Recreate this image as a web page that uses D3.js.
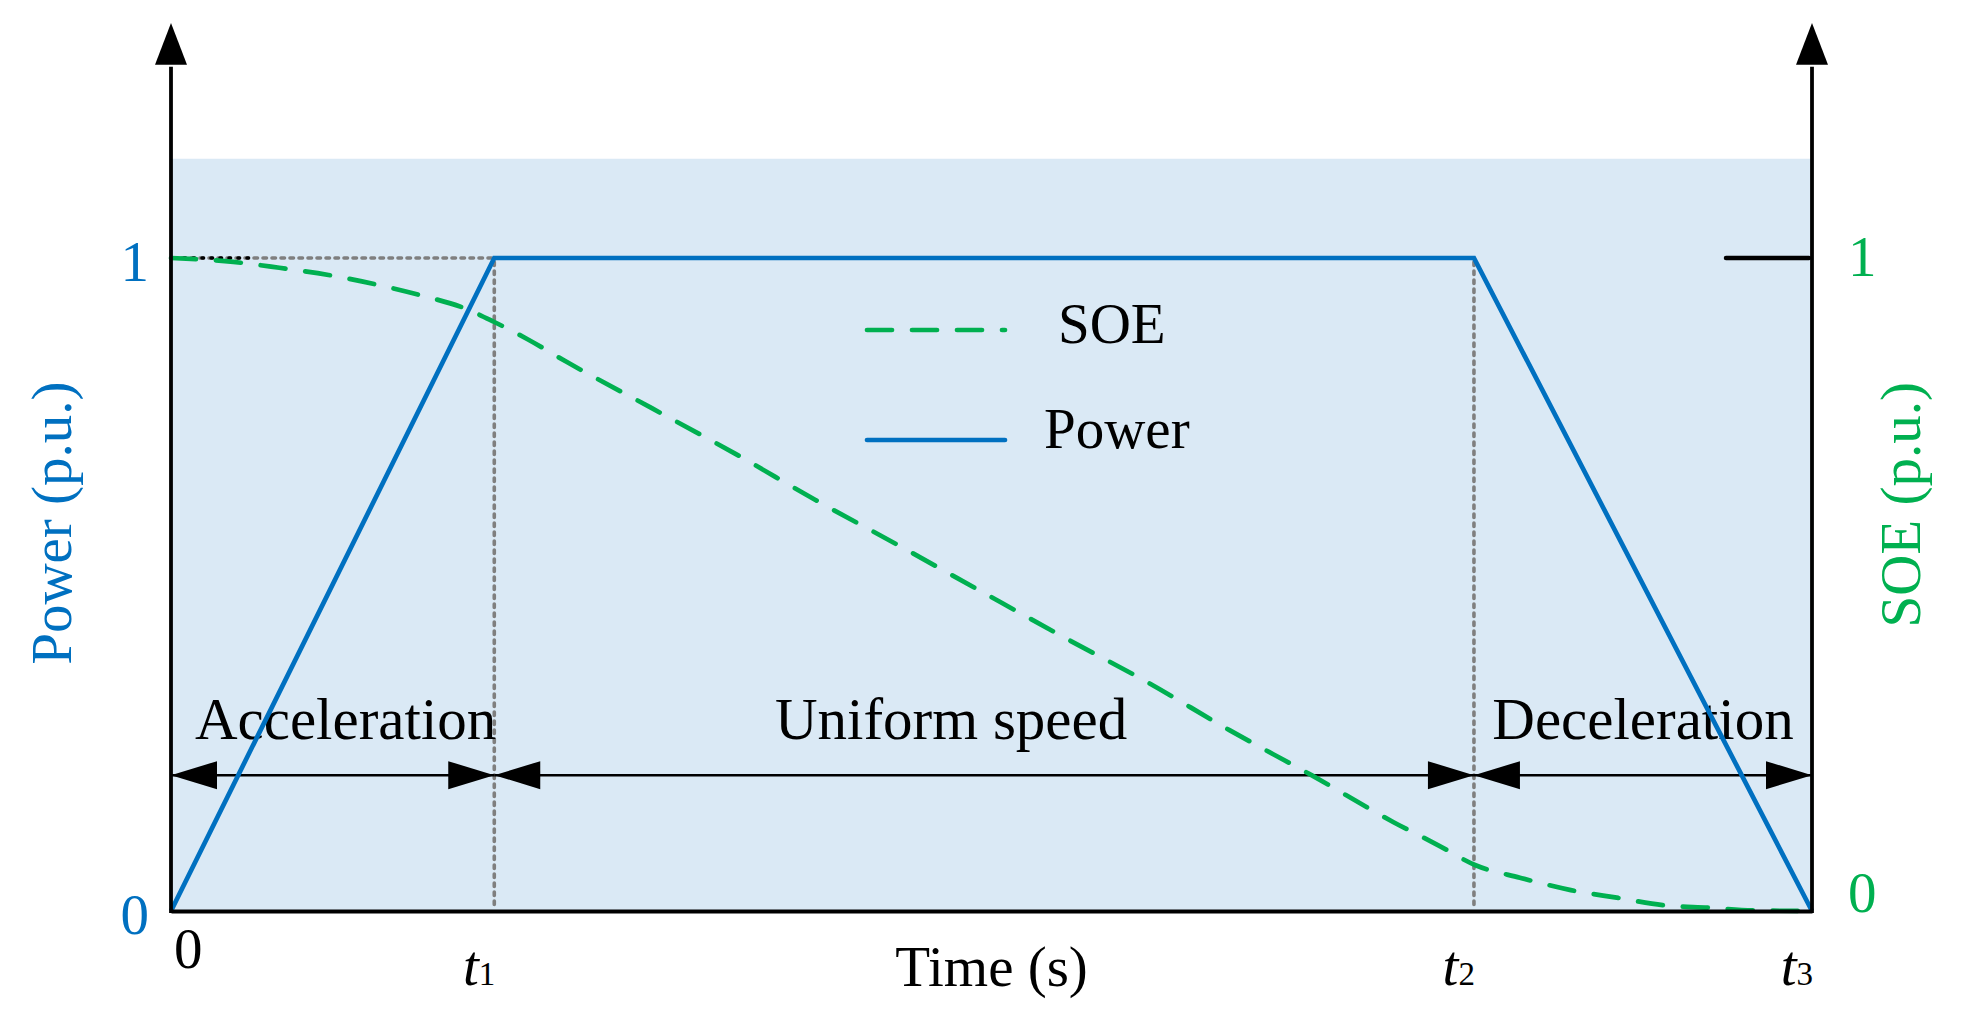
<!DOCTYPE html>
<html>
<head>
<meta charset="utf-8">
<script src="https://cdnjs.cloudflare.com/ajax/libs/d3/7.8.5/d3.min.js"></script>
<style>
  body { margin: 0; background: #fff; }
  svg { display: block; }
  text { font-family: "Liberation Serif", "DejaVu Serif", serif; font-size: 57px; }
</style>
</head>
<body>
<svg width="1962" height="1035"></svg>
<script>
// phase boundaries (t0, t1, t2, t3) in seconds, arbitrary units
const phaseTimes = [0, 1.97, 7.94, 10];
const phaseNames = ['Acceleration', 'Uniform speed', 'Deceleration'];

const powerTime = [0, 1.97, 7.94, 10];
const powerValue = [0, 1, 1, 0];

const soeTime = [0, 0.38, 0.66, 0.96, 1.24, 1.52, 1.80, 1.97, 2.17, 2.41, 2.93, 3.44,
    3.93, 4.44, 4.94, 5.45, 5.96, 6.45, 6.95, 7.45, 7.72, 7.95, 8.22, 8.53, 8.82,
    9.09, 9.37, 9.64, 10];
const soeValue = [1.000, 0.994, 0.985, 0.974, 0.960, 0.943, 0.922, 0.902, 0.876, 0.841,
    0.770, 0.700, 0.629, 0.559, 0.489, 0.418, 0.349, 0.277, 0.208, 0.136, 0.101, 0.070,
    0.051, 0.032, 0.020, 0.009, 0.005, 0.001, 0];

const xTickValues = [0, 1.97, 7.94, 10];
const xTickLabels = ['0', 't1', 't2', 't3'];
const yTickValues = [0, 1];

const blue = '#0070c0';
const green = '#00b050';
const shade = '#dae9f5';
const guide = '#7f7f7f';

const svg = d3.select('svg');

const xScale = d3.scaleLinear()
    .domain([0, 10])
    .range([171, 1812]);

const yScale = d3.scaleLinear()
    .domain([0, 1])
    .range([911, 258]);

const x0 = xScale(0);
const x3 = xScale(10);

// shaded background
svg.append('rect')
    .attr('x', x0)
    .attr('y', yScale(1.152))
    .attr('width', x3 - x0)
    .attr('height', yScale(0) - yScale(1.152))
    .attr('fill', shade);

// dotted guides
const guideG = svg.append('g')
    .attr('stroke', guide)
    .attr('stroke-width', 3.6)
    .attr('stroke-linecap', 'round')
    .attr('stroke-dasharray', '3.5 5.5');

guideG.append('line')
    .attr('x1', x0 + 2).attr('x2', xScale(phaseTimes[1]))
    .attr('y1', yScale(1)).attr('y2', yScale(1));

[phaseTimes[1], phaseTimes[2]].forEach(t => {
    guideG.append('line')
        .attr('x1', xScale(t)).attr('x2', xScale(t))
        .attr('y1', yScale(1) + 4).attr('y2', yScale(0) - 4);
});

// short tick marks at level 1
svg.append('line')
    .attr('x1', x0).attr('x2', x0 + 78)
    .attr('y1', yScale(1)).attr('y2', yScale(1))
    .attr('stroke', '#000')
    .attr('stroke-width', 3.6)
    .attr('stroke-linecap', 'round')
    .attr('stroke-dasharray', '1.5 7.5')
    .attr('stroke-dashoffset', 5);

svg.append('line')
    .attr('x1', x3 - 86).attr('x2', x3 - 3)
    .attr('y1', yScale(1)).attr('y2', yScale(1))
    .attr('stroke', '#000')
    .attr('stroke-width', 4.5)
    .attr('stroke-linecap', 'round');

// phase arrows
const arrowY = yScale(0.208);
const headLen = 46;
const headHalf = 14;
const labelShift = [13, -33, 0];

const phaseG = svg.append('g');
phaseNames.forEach((name, i) => {
    const a = xScale(phaseTimes[i]);
    const b = xScale(phaseTimes[i + 1]);
    phaseG.append('line')
        .attr('x1', a).attr('x2', b)
        .attr('y1', arrowY).attr('y2', arrowY)
        .attr('stroke', '#000')
        .attr('stroke-width', 2.6);
    phaseG.append('path')
        .attr('d', `M${a},${arrowY}L${a + headLen},${arrowY - headHalf}L${a + headLen},${arrowY + headHalf}Z`)
        .attr('fill', '#000');
    phaseG.append('path')
        .attr('d', `M${b},${arrowY}L${b - headLen},${arrowY - headHalf}L${b - headLen},${arrowY + headHalf}Z`)
        .attr('fill', '#000');
    phaseG.append('text')
        .attr('x', (a + b) / 2 + labelShift[i])
        .attr('y', arrowY - 36)
        .attr('text-anchor', 'middle')
        .attr('fill', '#000')
        .style('font-size', '59px')
        .text(name);
});

// power line
const powerData = powerTime.map((t, i) => ({t, v: powerValue[i]}));
const powerLine = d3.line()
    .x(d => xScale(d.t))
    .y(d => yScale(d.v));

svg.append('path')
    .attr('d', powerLine(powerData))
    .attr('fill', 'none')
    .attr('stroke', blue)
    .attr('stroke-width', 4.7)
    .attr('stroke-linejoin', 'miter');

// SOE curve
const soeData = soeTime.map((t, i) => ({t, v: soeValue[i]}));
const soeLine = d3.line()
    .x(d => xScale(d.t))
    .y(d => yScale(d.v))
    .curve(d3.curveMonotoneX);

svg.append('path')
    .attr('d', soeLine(soeData))
    .attr('fill', 'none')
    .attr('stroke', green)
    .attr('stroke-width', 4.7)
    .attr('stroke-linecap', 'round')
    .attr('stroke-dasharray', '25 20');

// axes
const axisTop = yScale(1.296);
const tipY = yScale(1.36);

const xAxisG = svg.append('g')
    .attr('transform', `translate(0, ${yScale(0)})`)
    .call(d3.axisBottom(xScale).tickValues(xTickValues).tickSize(0).tickSizeOuter(0).tickFormat(''));
xAxisG.select('.domain')
    .attr('stroke', '#000')
    .attr('stroke-width', 4.2);

[x0, x3].forEach(ax => {
    svg.append('line')
        .attr('x1', ax).attr('x2', ax)
        .attr('y1', yScale(0) + 2).attr('y2', axisTop + 2)
        .attr('stroke', '#000')
        .attr('stroke-width', 3.8);
    svg.append('path')
        .attr('d', `M${ax},${tipY}L${ax - 16},${axisTop}L${ax + 16},${axisTop}Z`)
        .attr('fill', '#000');
});

const yAxisG = svg.append('g')
    .attr('transform', `translate(${x0}, 0)`)
    .call(d3.axisLeft(yScale).tickValues(yTickValues).tickSize(0).tickPadding(22).tickFormat(d3.format('d')));
yAxisG.select('.domain').remove();
yAxisG.selectAll('.tick text')
    .attr('fill', blue)
    .attr('dy', '0.4em');

const yAxisRightG = svg.append('g')
    .attr('transform', `translate(${x3}, 0)`)
    .call(d3.axisRight(yScale).tickValues(yTickValues).tickSize(0).tickPadding(36).tickFormat(d3.format('d')));
yAxisRightG.select('.domain').remove();
yAxisRightG.selectAll('.tick text')
    .attr('fill', green)
    .attr('dy', d => d === 1 ? '0.3em' : '0em');

// x tick labels
xTickLabels.forEach((lab, i) => {
    const px = xScale(xTickValues[i]);
    const txt = svg.append('text').attr('fill', '#000');
    if (lab === '0') {
        txt.attr('x', px + 3).attr('y', yScale(0) + 57).text(lab);
    } else {
        txt.attr('x', px + 1).attr('y', yScale(0) + 74).attr('text-anchor', 'end');
        txt.append('tspan').attr('font-style', 'italic').text(lab[0]);
        txt.append('tspan').style('font-size', '33px').text(lab.slice(1));
    }
});

// axis titles
svg.append('text')
    .attr('x', (x0 + x3) / 2)
    .attr('y', yScale(0) + 75)
    .attr('text-anchor', 'middle')
    .attr('fill', '#000')
    .text('Time (s)');

svg.append('text')
    .attr('transform', `translate(71, ${yScale(0.594)}) rotate(-90)`)
    .attr('text-anchor', 'middle')
    .attr('fill', blue)
    .text('Power (p.u.)');

svg.append('text')
    .attr('transform', `translate(1920, ${yScale(0.622)}) rotate(-90)`)
    .attr('text-anchor', 'middle')
    .attr('fill', green)
    .text('SOE (p.u.)');

// legend
const legend = svg.append('g');
legend.append('line')
    .attr('x1', 867).attr('x2', 1005)
    .attr('y1', 330).attr('y2', 330)
    .attr('stroke', green)
    .attr('stroke-width', 4.7)
    .attr('stroke-linecap', 'round')
    .attr('stroke-dasharray', '25 20');
legend.append('text')
    .attr('x', 1058).attr('y', 343)
    .attr('fill', '#000')
    .text('SOE');
legend.append('line')
    .attr('x1', 867).attr('x2', 1005)
    .attr('y1', 440).attr('y2', 440)
    .attr('stroke', blue)
    .attr('stroke-width', 4.7)
    .attr('stroke-linecap', 'round');
legend.append('text')
    .attr('x', 1044).attr('y', 448)
    .attr('fill', '#000')
    .text('Power');
</script>
</body>
</html>
